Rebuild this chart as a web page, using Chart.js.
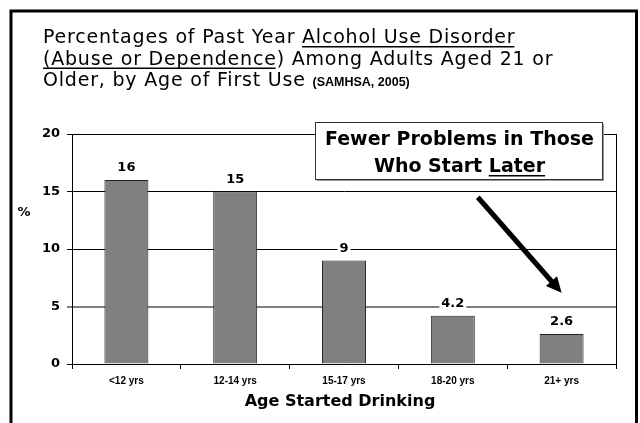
<!DOCTYPE html>
<html>
<head>
<meta charset="utf-8">
<script src="https://cdn.jsdelivr.net/npm/chart.js@4.4.1/dist/chart.umd.min.js"></script>
<style>
  html, body { margin: 0; padding: 0; background: #fff; }
  canvas { display: block; }
</style>
</head>
<body>
<canvas id="ageChart" width="640" height="423"></canvas>
<script>
// values
const categories = ['<12 yrs', '12-14 yrs', '15-17 yrs', '18-20 yrs', '21+ yrs'];
const percentages = [16, 15, 9, 4.2, 2.6];
const yTicks = [0, 5, 10, 15, 20];

const titleLines = [
    [{ text: 'Percentages of Past Year ' }, { text: 'Alcohol Use Disorder', underline: true }],
    [{ text: '(Abuse or Dependence', underline: true }, { text: ') Among Adults Aged 21 or' }],
    [{ text: 'Older, by Age of First Use ' }, { text: '(SAMHSA, 2005)', small: true }]
];
const xTitle = 'Age Started Drinking';
const yTitle = '%';
const noteLines = ['Fewer Problems in Those', 'Who Start Later'];

const SANS = '"DejaVu Sans", Verdana, sans-serif';

function drawUnderline(ctx, x, y, w) {
    ctx.save();
    ctx.fillStyle = '#000';
    ctx.fillRect(x, y + 3, w, 1.5);
    ctx.restore();
}

const slidePlugin = {
    id: 'slide',
    beforeDraw(chart) {
        const ctx = chart.ctx;
        ctx.save();
        ctx.fillStyle = '#fff';
        ctx.fillRect(0, 0, chart.width, chart.height);
        ctx.restore();
    },
    afterDatasetsDraw(chart) {
        const ctx = chart.ctx;
        const meta = chart.getDatasetMeta(0);
        ctx.save();
        ctx.font = 'bold 13px ' + SANS;
        ctx.textAlign = 'center';
        ctx.textBaseline = 'middle';
        meta.data.forEach((bar, i) => {
            const label = String(percentages[i]);
            const w = ctx.measureText(label).width;
            const y = bar.y - 12;
            ctx.fillStyle = '#fff';
            ctx.fillRect(bar.x - w / 2 - 2, y - 6, w + 4, 12);
            ctx.fillStyle = '#000';
            ctx.fillText(label, bar.x, y);
        });
        ctx.restore();
    },
    afterDraw(chart) {
        const ctx = chart.ctx;
        const area = chart.chartArea;
        const xs = chart.scales.x;
        const ys = chart.scales.y;
        ctx.save();

        // right edge of the plot frame
        ctx.strokeStyle = '#000';
        ctx.lineWidth = 1;
        ctx.beginPath();
        ctx.moveTo(area.right + 0.5, area.top);
        ctx.lineTo(area.right + 0.5, area.bottom);
        ctx.stroke();

        // outer slide frame
        ctx.lineWidth = 3;
        ctx.strokeRect(11, 11, 625.5, 430);

        // title
        ctx.textBaseline = 'alphabetic';
        ctx.textAlign = 'left';
        ctx.fillStyle = '#000';
        titleLines.forEach((line, li) => {
            let x = 43;
            const y = 43 + li * 21.5;
            line.forEach(seg => {
                if (seg.small) {
                    ctx.font = 'bold 12.5px "Liberation Sans", Arial, sans-serif';
                    ctx.letterSpacing = '0px';
                } else {
                    ctx.font = '19px ' + SANS;
                    ctx.letterSpacing = '0.8px';
                }
                const w = ctx.measureText(seg.text).width;
                ctx.fillText(seg.text, x, y);
                if (seg.underline) drawUnderline(ctx, x, y, w - 1);
                x += w;
            });
        });
        ctx.letterSpacing = '0px';

        // callout box
        const bx = 315, by = 122, bw = 287, bh = 57;
        ctx.fillStyle = '#999';
        ctx.fillRect(bx + 2, by + 2, bw, bh);
        ctx.fillStyle = '#fff';
        ctx.fillRect(bx, by, bw, bh);
        ctx.strokeStyle = '#333';
        ctx.lineWidth = 1;
        ctx.strokeRect(bx + 0.5, by + 0.5, bw, bh);
        ctx.fillStyle = '#000';
        ctx.font = 'bold 19px ' + SANS;
        ctx.textAlign = 'center';
        const cx = bx + bw / 2 + 1;
        ctx.fillText(noteLines[0], cx, 145);
        ctx.fillText(noteLines[1], cx, 172);
        const full = ctx.measureText(noteLines[1]).width;
        const later = ctx.measureText('Later').width;
        drawUnderline(ctx, cx + full / 2 - later, 172, later);

        // arrow towards the last bar
        const x3 = xs.getPixelForValue(3), x4 = xs.getPixelForValue(4);
        const sx = x3 + (x4 - x3) * 0.23, sy = ys.getPixelForValue(14.5);
        const ex = x4, ey = ys.getPixelForValue(6.2);
        const ang = Math.atan2(ey - sy, ex - sx);
        const head = 17;
        ctx.strokeStyle = '#000';
        ctx.lineWidth = 5;
        ctx.beginPath();
        ctx.moveTo(sx, sy);
        ctx.lineTo(ex - Math.cos(ang) * head * 0.8, ey - Math.sin(ang) * head * 0.8);
        ctx.stroke();
        ctx.beginPath();
        ctx.moveTo(ex, ey);
        ctx.lineTo(ex - head * Math.cos(ang - 0.45), ey - head * Math.sin(ang - 0.45));
        ctx.lineTo(ex - head * Math.cos(ang + 0.45), ey - head * Math.sin(ang + 0.45));
        ctx.closePath();
        ctx.fillStyle = '#000';
        ctx.fill();

        // axis titles
        ctx.font = 'bold 16px ' + SANS;
        ctx.textAlign = 'center';
        ctx.textBaseline = 'middle';
        ctx.fillText(xTitle, (area.left + area.right) / 2 - 4, 402);
        ctx.font = 'bold 13px ' + SANS;
        ctx.fillText(yTitle, 24, 213);

        ctx.restore();
    }
};

const chart = new Chart(document.getElementById('ageChart'), {
    type: 'bar',
    data: {
        labels: categories,
        datasets: [{
            data: percentages,
            backgroundColor: '#808080',
            borderColor: '#222',
            borderWidth: 1,
            barPercentage: 0.404,
            categoryPercentage: 1
        }]
    },
    options: {
        responsive: false,
        animation: false,
        devicePixelRatio: 1,
        layout: { padding: { top: 134, right: 24, left: 0, bottom: 0 } },
        plugins: {
            legend: { display: false },
            tooltip: { enabled: false },
            title: { display: false }
        },
        scales: {
            x: {
                offset: true,
                grid: {
                    offset: true,
                    drawOnChartArea: false,
                    drawTicks: true,
                    tickLength: 5,
                    color: '#000'
                },
                border: { color: '#000', width: 1 },
                ticks: {
                    color: '#000',
                    padding: 6,
                    maxRotation: 0,
                    font: { family: '"Liberation Sans", Arial, sans-serif', size: 10, weight: 'bold' }
                },
                afterFit(scale) { scale.height = 59; }
            },
            y: {
                min: 0,
                max: 20,
                afterBuildTicks(scale) { scale.ticks = yTicks.map(v => ({ value: v })); },
                grid: {
                    color: c => c.tick && c.tick.value === 5 ? '#808080' : '#000',
                    lineWidth: c => c.tick && c.tick.value === 5 ? 2 : 1,
                    tickLength: 5,
                    drawTicks: true
                },
                border: { color: '#000', width: 1 },
                ticks: {
                    color: '#000',
                    padding: 7,
                    font: { family: SANS, size: 13, weight: 'bold' }
                },
                afterFit(scale) { scale.width = 72; }
            }
        }
    },
    plugins: [slidePlugin]
});
</script>
</body>
</html>
